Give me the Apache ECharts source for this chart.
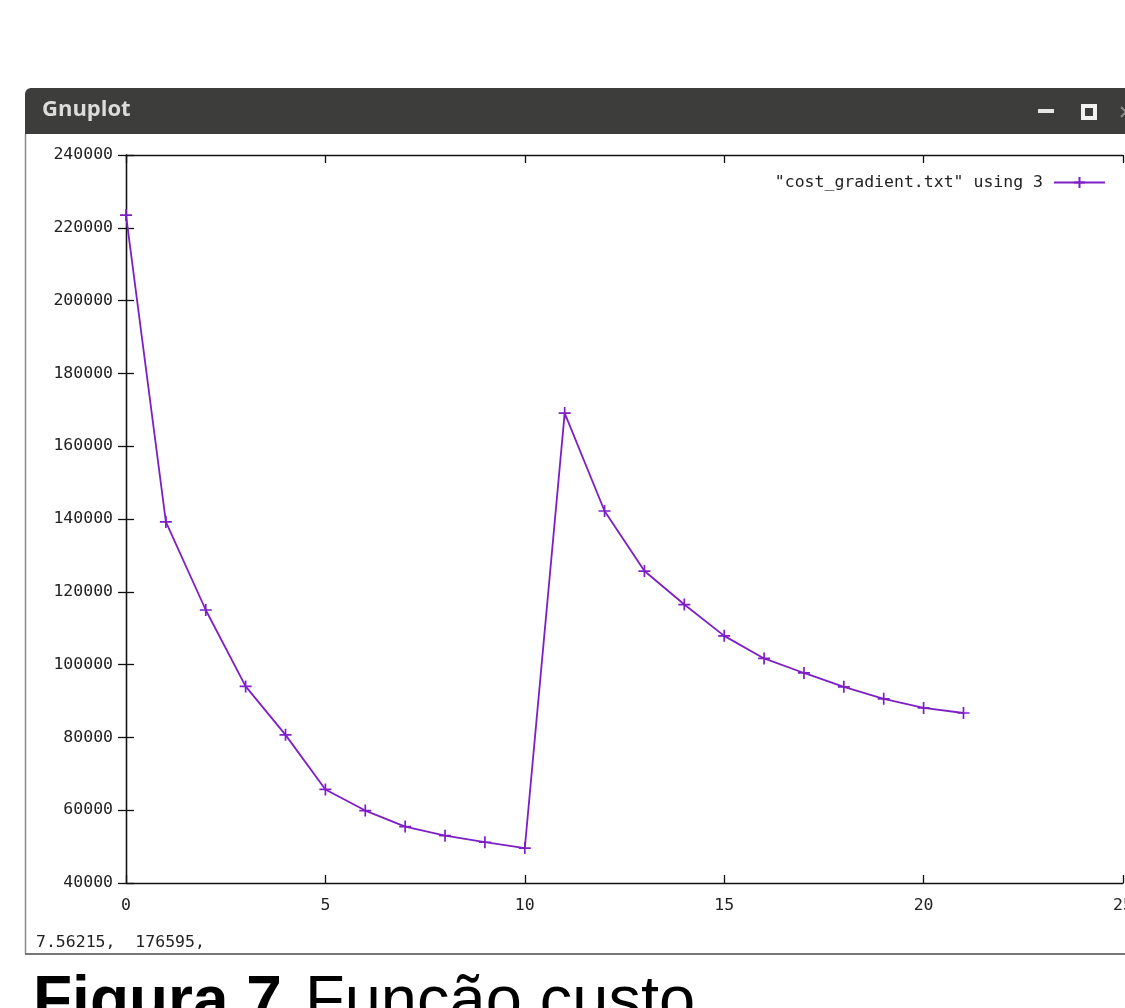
<!DOCTYPE html>
<html>
<head>
<meta charset="utf-8">
<script src="https://cdn.jsdelivr.net/npm/echarts@6/dist/echarts.min.js"></script>
<style>
html,body{margin:0;padding:0;background:#fff;}
#c{width:1125px;height:1008px;}
</style>
</head>
<body>
<div id="c"></div>
<script>
const iterations = [0,1,2,3,4,5,6,7,8,9,10,11,12,13,14,15,16,17,18,19,20,21];
const costs = [223500,139200,115000,94000,80700,65700,59900,55500,53000,51200,49600,169100,142200,125700,116500,107900,101700,97700,93900,90600,88100,86700];
const seriesName = '"cost_gradient.txt" using 3';
const xTicks = {min:0, max:25, step:5};
const yTicks = {min:40000, max:240000, step:20000};
const windowTitle = 'Gnuplot';
const statusText = '7.56215,  176595,';
const captionBold = 'Figura 7.';
const captionRegular = 'Função custo';

const PURPLE = '#7e1fc6';
const MONO = '"DejaVu Sans Mono", monospace';
const chart = echarts.init(document.getElementById('c'), null, {renderer:'canvas'});

const axisCommon = {
  type:'value',
  axisLine:{show:true, lineStyle:{color:'#111', width:1.3}},
  axisTick:{show:true, inside:true, length:8, lineStyle:{color:'#111', width:1.3}},
  splitLine:{show:false},
  axisLabel:{color:'#222', fontFamily:MONO, fontSize:16.5, formatter:v=>String(v)}
};

chart.setOption({
  animation:false,
  backgroundColor:'#fff',
  grid:{left:126, top:155, width:997, height:728, containLabel:false, outerBoundsMode:'none'},
  legend:{
    show:true, right:14, top:169, align:'right',
    itemWidth:51, itemHeight:14,
    textStyle:{color:'#222', fontFamily:MONO, fontSize:16.5, padding:[0,6,0,0]},
    data:[seriesName]
  },
  xAxis:[
    Object.assign({}, axisCommon, {min:xTicks.min, max:xTicks.max, interval:xTicks.step, position:'bottom',
      axisLabel:Object.assign({}, axisCommon.axisLabel, {margin:14})}),
    Object.assign({}, axisCommon, {min:xTicks.min, max:xTicks.max, interval:xTicks.step, position:'top',
      axisLabel:{show:false}})
  ],
  yAxis:[
    Object.assign({}, axisCommon, {min:yTicks.min, max:yTicks.max, interval:yTicks.step, position:'left',
      axisLabel:Object.assign({}, axisCommon.axisLabel, {margin:13})}),
    Object.assign({}, axisCommon, {min:yTicks.min, max:yTicks.max, interval:yTicks.step, position:'right',
      axisLabel:{show:false}})
  ],
  series:[{
    name:seriesName,
    type:'line',
    data:iterations.map((x,i)=>[x,costs[i]]),
    symbol:'path://M0,5L10,5M5,0L5,10',
    symbolSize:12,
    showAllSymbol:true,
    lineStyle:{color:PURPLE, width:1.8},
    itemStyle:{color:PURPLE, borderColor:PURPLE, borderWidth:1.7},
    clip:false
  }],
  graphic:[
    {type:'rect', z:-1, shape:{x:25, y:88, width:1120, height:46, r:[6,0,0,0]}, style:{fill:'#3d3d3b'}},
    {type:'text', left:42, top:99, style:{text:windowTitle, fill:'#dcdcdc', font:'bold 22px "Open Sans", sans-serif'}},
    {type:'rect', shape:{x:1038, y:109, width:16, height:4}, style:{fill:'#e6e6e6'}},
    {type:'rect', shape:{x:1083, y:106, width:12, height:12}, style:{fill:'none', stroke:'#f2f2f2', lineWidth:4}},
    {type:'line', shape:{x1:1121, y1:107, x2:1131, y2:117}, style:{stroke:'#8a8a8a', lineWidth:2}},
    {type:'line', shape:{x1:1131, y1:107, x2:1121, y2:117}, style:{stroke:'#8a8a8a', lineWidth:2}},
    {type:'line', shape:{x1:25.5, y1:134, x2:25.5, y2:954}, style:{stroke:'#8a8a8a', lineWidth:1.5}},
    {type:'line', shape:{x1:25, y1:954, x2:1125, y2:954}, style:{stroke:'#777', lineWidth:2}},
    {type:'text', left:36, top:934, style:{text:statusText, fill:'#222', font:'16.5px "DejaVu Sans Mono", monospace'}},
    {type:'text', left:33, top:971, style:{text:captionBold, fill:'#000', font:'bold 64px "Liberation Sans", Arial, sans-serif'}},
    {type:'text', left:305, top:971, style:{text:captionRegular, fill:'#000', font:'65px "Liberation Sans", Arial, sans-serif'}}
  ]
});
</script>
</body>
</html>
